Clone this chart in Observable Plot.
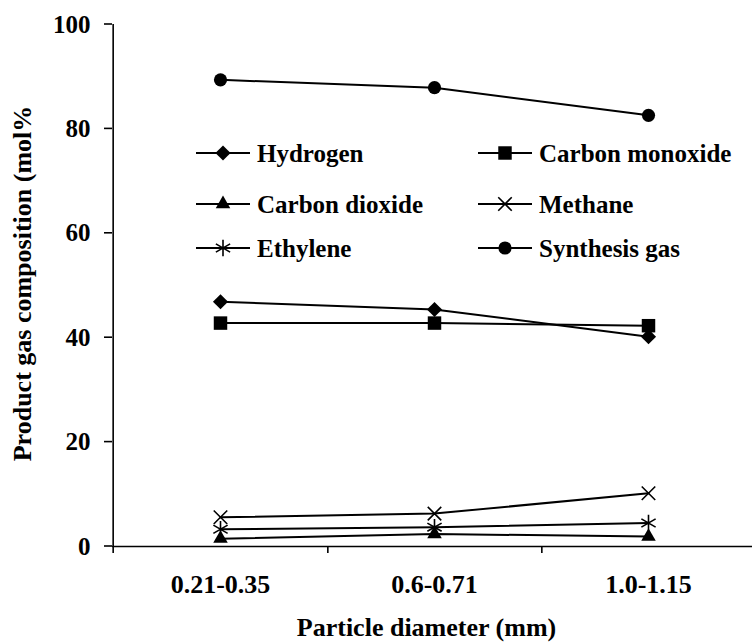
<!DOCTYPE html>
<html><head><meta charset="utf-8">
<script src="https://cdn.jsdelivr.net/npm/d3@7"></script>
<script src="https://cdn.jsdelivr.net/npm/@observablehq/plot@0.6"></script>
<style>body{margin:0;background:#fff} #chart{width:752px;height:643px}</style>
</head><body><div id="chart"></div>
<script>
const categories = ["0.21-0.35", "0.6-0.71", "1.0-1.15"];
const seriesNames = ["Hydrogen", "Carbon monoxide", "Carbon dioxide", "Methane", "Ethylene", "Synthesis gas"];
const hydrogen = [46.9, 45.4, 40.2];
const carbonMonoxide = [42.8, 42.8, 42.3];
const carbonDioxide = [1.5, 2.4, 1.9];
const methane = [5.6, 6.3, 10.2];
const ethylene = [3.3, 3.7, 4.5];
const synthesisGas = [89.4, 87.9, 82.6];
const yTicks = [0, 20, 40, 60, 80, 100];

const symbols = ["diamond2", "square", "triangle", "times", "asterisk", "circle"];
const radii = [6.8, 7.6, 5.4, 6.2, 7.8, 6.6];
const filled = [true, true, true, false, false, true];
const valuesBySeries = [hydrogen, carbonMonoxide, carbonDioxide, methane, ethylene, synthesisGas];

const data = seriesNames.flatMap((s, k) =>
  categories.map((c, i) => ({series: s, k, cat: c, value: valuesBySeries[k][i]})));

const font = "'Liberation Serif','Times New Roman',serif";
const W = 752, H = 643, mL = 112, mT = 24, mB = 97, xRight = 756;
const step = (xRight - mL) / categories.length;

const marks = [
  Plot.ruleY([0], {stroke: "black", strokeWidth: 1.6}),
  Plot.ruleX([categories[0]], {dx: -step / 2, y1: -1.35, y2: 100, stroke: "black", strokeWidth: 1.6}),
  Plot.ruleX(categories.slice(0, -1), {dx: step / 2, y1: 0, y2: -1.35, stroke: "black", strokeWidth: 1.6}),
  Plot.text(yTicks, {y: d => d, text: d => String(d), frameAnchor: "left", dx: -22, textAnchor: "end", fontSize: 25, fontWeight: "bold"}),
  Plot.axisX({tickSize: 0, tickPadding: 28, fontSize: 26, fontWeight: "bold", label: null}),
  Plot.text(["Product gas composition (mol%"], {frameAnchor: "left", textAnchor: "middle", rotate: -90, dx: -90, dy: -2, fontSize: 26, fontWeight: "bold"}),
  Plot.text(["Particle diameter (mm)"], {frameAnchor: "bottom", textAnchor: "middle", dy: 89, dx: -6, fontSize: 26, fontWeight: "bold"})
];
seriesNames.forEach((s, k) => {
  const d = data.filter(r => r.k === k);
  marks.push(Plot.line(d, {x: "cat", y: "value", stroke: "black", strokeWidth: 2}));
});
seriesNames.forEach((s, k) => {
  const d = data.filter(r => r.k === k);
  marks.push(Plot.dot(d, {
    x: "cat", y: "value", symbol: () => symbols[k], r: radii[k],
    fill: filled[k] ? "black" : "none", stroke: "black", strokeWidth: filled[k] ? 0 : 1.6
  }));
});

const plot = Plot.plot({
  width: W, height: H,
  marginLeft: mL, marginRight: 0, marginTop: mT, marginBottom: mB,
  style: {fontFamily: font, background: "white", color: "black", overflow: "visible"},
  x: {type: "point", domain: categories, range: [mL, xRight], padding: 0.5, axis: null},
  y: {domain: [0, 100], axis: null},
  symbol: {type: "identity"},
  marks
});
document.getElementById("chart").appendChild(plot);

const svg = d3.select(plot);
// Y tick marks, placed through Plot's own y scale
const yScale = plot.scale("y");
svg.append("g").selectAll("line").data(yTicks).join("line")
  .attr("x1", mL - 8).attr("x2", mL)
  .attr("y1", d => yScale.apply(d)).attr("y2", d => yScale.apply(d))
  .attr("stroke", "black").attr("stroke-width", 1.6);

// Legend inside the plot area
const legendCols = [196, 478];
const legendRows = [153, 204, 248];
const legend = svg.append("g").attr("font-family", font).attr("font-weight", "bold")
  .attr("font-size", 25).attr("text-anchor", "start");
const symbolTypes = {diamond2: d3.symbolDiamond2, square: d3.symbolSquare, triangle: d3.symbolTriangle,
  times: d3.symbolTimes, asterisk: d3.symbolAsterisk, circle: d3.symbolCircle};
seriesNames.forEach((s, k) => {
  const x0 = legendCols[k % 2], y0 = legendRows[Math.floor(k / 2)];
  const g = legend.append("g").attr("transform", `translate(${x0},${y0})`);
  g.append("line").attr("x1", 0).attr("x2", 54).attr("stroke", "black").attr("stroke-width", 2);
  g.append("path").attr("transform", "translate(27,0)")
    .attr("d", d3.symbol(symbolTypes[symbols[k]], Math.PI * radii[k] * radii[k])())
    .attr("fill", filled[k] ? "black" : "none").attr("stroke", filled[k] ? "none" : "black").attr("stroke-width", 1.6);
  g.append("text").attr("x", 61).attr("dy", "0.35em").attr("text-anchor", "start").text(s);
});
</script>
</body></html>
